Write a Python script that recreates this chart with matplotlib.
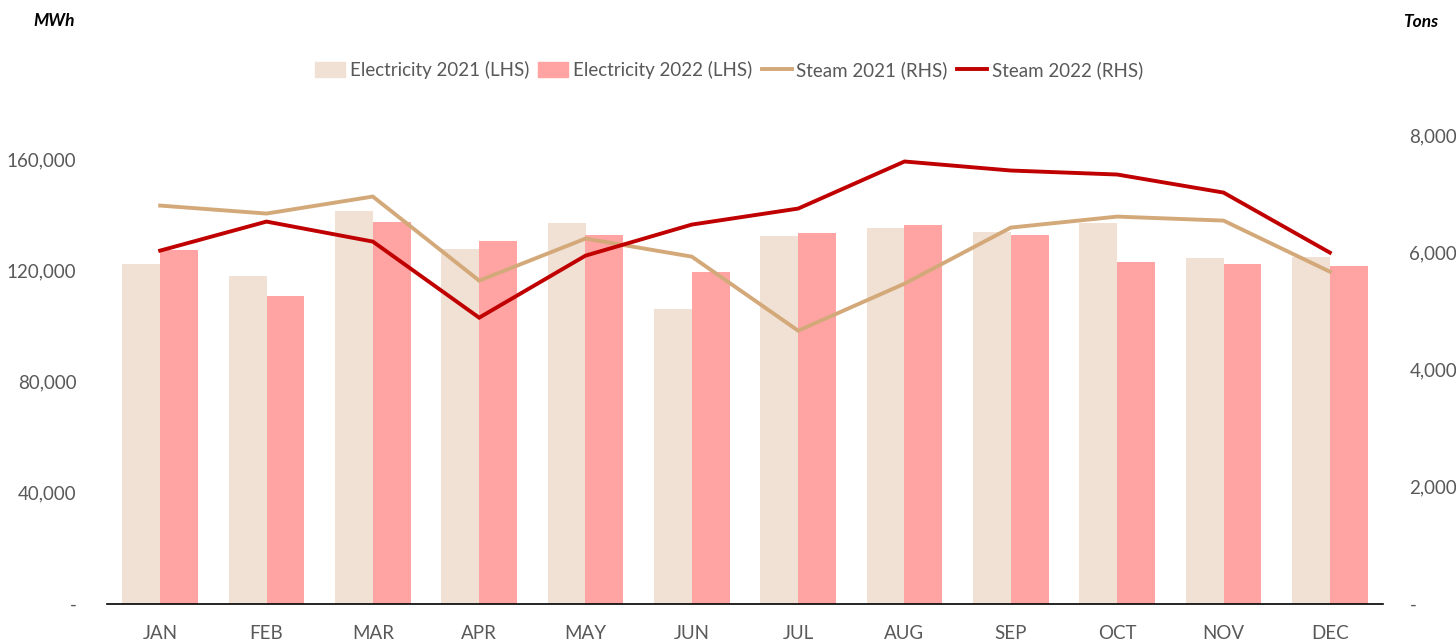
import matplotlib.pyplot as plt
import numpy as np
from matplotlib.patches import Patch
from matplotlib.lines import Line2D

months = ["JAN", "FEB", "MAR", "APR", "MAY", "JUN", "JUL", "AUG", "SEP", "OCT", "NOV", "DEC"]
elec_2021 = [122400, 118100, 141500, 127800, 137200, 106200, 132500, 135400, 133900, 137200, 124600, 124900]
elec_2022 = [127400, 110900, 137500, 130700, 132800, 119500, 133600, 136400, 132800, 123100, 122400, 121700]
steam_2021 = [6796, 6660, 6950, 5516, 6233, 5925, 4662, 5464, 6421, 6608, 6540, 5669]
steam_2022 = [6028, 6523, 6182, 4884, 5942, 6472, 6745, 7548, 7394, 7326, 7018, 5994]

C_E21 = "#F1E1D4"
C_E22 = "#FFA3A3"
C_S21 = "#D4A97A"
C_S22 = "#C00000"
GREY = "#595959"

plt.rcParams["font.family"] = ["Lato", "DejaVu Sans"]

fig = plt.figure(figsize=(14.56, 6.41), dpi=100)
ax = fig.add_axes([107 / 1456, 1 - 604 / 641, (1383 - 107) / 1456, (604 - 135) / 641])
ax2 = ax.twinx()

x = np.arange(len(months))
w = 0.357
ax.bar(x - w / 2, elec_2021, w, color=C_E21, zorder=1)
ax.bar(x + w / 2, elec_2022, w, color=C_E22, zorder=1)
ax2.plot(x, steam_2021, color=C_S21, lw=2.8, solid_joinstyle="miter")
ax2.plot(x, steam_2022, color=C_S22, lw=2.8, solid_joinstyle="miter")

ax.set_xlim(-0.5, 11.5)
ax.set_ylim(0, 168800)
ax2.set_ylim(0, 8000)

ax.set_yticks([0, 40000, 80000, 120000, 160000])
ax.set_yticklabels(["-", "40,000", "80,000", "120,000", "160,000"])
ax2.set_yticks([0, 2000, 4000, 6000, 8000])
ax2.set_yticklabels(["-", "2,000", "4,000", "6,000", "8,000"])
ax.set_xticks(x)
ax.set_xticklabels(months)

for a in (ax, ax2):
    for s in ("top", "left", "right", "bottom"):
        a.spines[s].set_visible(False)
    a.tick_params(length=0, labelsize=13.5, colors=GREY)
ax.spines["bottom"].set_visible(True)
ax.spines["bottom"].set_color("black")
ax.spines["bottom"].set_linewidth(1.2)
ax.tick_params(axis="y", pad=22)
ax2.tick_params(axis="y", pad=19)
ax.tick_params(axis="x", pad=15)

fig.text(33 / 1456, 1 - 21 / 641, "MWh", fontsize=12.5, fontweight="bold", fontstyle="italic",
         color="black", va="center", ha="left")
fig.text(1438 / 1456, 1 - 22 / 641, "Tons", fontsize=12.5, fontweight="bold", fontstyle="italic",
         color="black", va="center", ha="right")

handles = [
    Patch(color=C_E21, label="Electricity 2021 (LHS)"),
    Patch(color=C_E22, label="Electricity 2022 (LHS)"),
    Line2D([], [], color=C_S21, lw=2.8, label="Steam 2021 (RHS)"),
    Line2D([], [], color=C_S22, lw=2.8, label="Steam 2022 (RHS)"),
]
leg = fig.legend(handles=handles, loc="center", bbox_to_anchor=(729 / 1456, 1 - 70 / 641), ncol=4,
                 frameon=False, fontsize=13.5, handlelength=1.6, handletextpad=0.25,
                 columnspacing=0.5, handleheight=0.9)
for t in leg.get_texts():
    t.set_color(GREY)

fig.savefig("out.png", dpi=100)
